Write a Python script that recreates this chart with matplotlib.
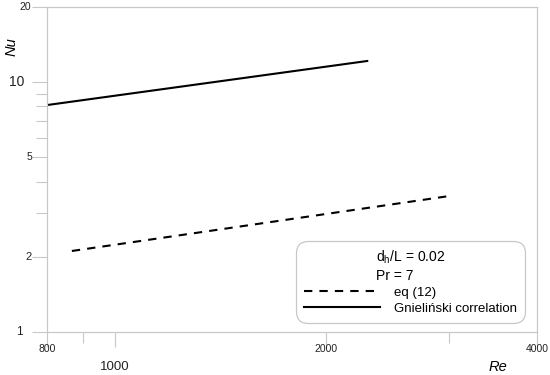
import matplotlib
matplotlib.use("Agg")
import matplotlib.pyplot as plt
from matplotlib.ticker import NullFormatter, FixedLocator

plt.rcParams['font.family'] = ['Liberation Sans', 'DejaVu Sans']
plt.rcParams['mathtext.fontset'] = 'custom'
plt.rcParams['mathtext.rm'] = 'Liberation Sans'

# data (Re, Nu)
re_eq12 = [868, 2994]
nu_eq12 = [2.11, 3.50]
re_gniel = [800, 2290]
nu_gniel = [8.1, 12.16]

x_major = [800, 1000, 2000, 4000]
x_minor = [900, 3000]
y_major = [1, 2, 5, 10, 20]
y_minor = [3, 4, 6, 7, 8, 9]

# tick label quirks of the original (size, offset in points)
x_labels = [("800", 7.5, -12), ("1000", 9.5, -25), ("2000", 7.5, -12), ("4000", 7.5, -12)]
y_labels = [("1", 8.5, -20), ("2", 8, -13.5), ("5", 7.5, -13), ("10", 10, -22), ("20", 7.5, -16)]

grey = '#c8c8c8'

fig = plt.figure(figsize=(5.5, 3.75), dpi=100)
ax = fig.add_axes([0.0855, 0.1147, 0.8909, 0.8666])

ax.plot(re_eq12, nu_eq12, color='black', lw=1.5, dashes=(4, 3.4), label='eq (12)')
ax.plot(re_gniel, nu_gniel, color='black', lw=1.5, label='Gnieliński correlation')

ax.set_xscale('log')
ax.set_yscale('log')
ax.set_xlim(800, 4000)
ax.set_ylim(1, 20)

ax.xaxis.set_major_locator(FixedLocator(x_major))
ax.xaxis.set_minor_locator(FixedLocator(x_minor))
ax.yaxis.set_major_locator(FixedLocator(y_major))
ax.yaxis.set_minor_locator(FixedLocator(y_minor))
ax.xaxis.set_major_formatter(NullFormatter())
ax.xaxis.set_minor_formatter(NullFormatter())
ax.yaxis.set_major_formatter(NullFormatter())
ax.yaxis.set_minor_formatter(NullFormatter())
ax.tick_params(which='major', length=11, width=0.8, color=grey)
ax.tick_params(which='minor', length=8, width=0.8, color=grey)

for sp in ax.spines.values():
    sp.set_color(grey)
    sp.set_linewidth(0.9)

for txt, size, dy in x_labels:
    ax.annotate(txt, xy=(float(txt), 0), xycoords=('data', 'axes fraction'),
                xytext=(0, dy), textcoords='offset points',
                ha='center', va='center', fontsize=size, color='#222222')
for txt, size, dx in y_labels:
    ax.annotate(txt, xy=(0, float(txt)), xycoords=('axes fraction', 'data'),
                xytext=(dx, 0), textcoords='offset points',
                ha='center', va='center', fontsize=size, color='#222222')

fig.text(12 / 550, 1 - 47 / 375, 'Nu', rotation=90, style='italic',
         fontsize=10.5, ha='center', va='center')
fig.text(498 / 550, 1 - 367 / 375, 'Re', style='italic',
         fontsize=10.5, ha='center', va='center')

leg = ax.legend(loc='lower right', bbox_to_anchor=(0.9755, 0.028),
                title='d$_\\mathregular{h}$/L = 0.02\nPr = 7',
                fontsize=9.5, title_fontsize=10, handlelength=5.75, handletextpad=1.1,
                borderaxespad=0, frameon=True, fancybox=True,
                labelspacing=0.3, borderpad=0.6)
leg.get_title().set_multialignment('left')
leg.get_frame().set_edgecolor(grey)
leg.get_frame().set_linewidth(0.9)
leg.get_frame().set_alpha(1)
leg.get_frame().set_boxstyle('round,pad=0,rounding_size=0.9')

fig.savefig('out.png', dpi=100)
